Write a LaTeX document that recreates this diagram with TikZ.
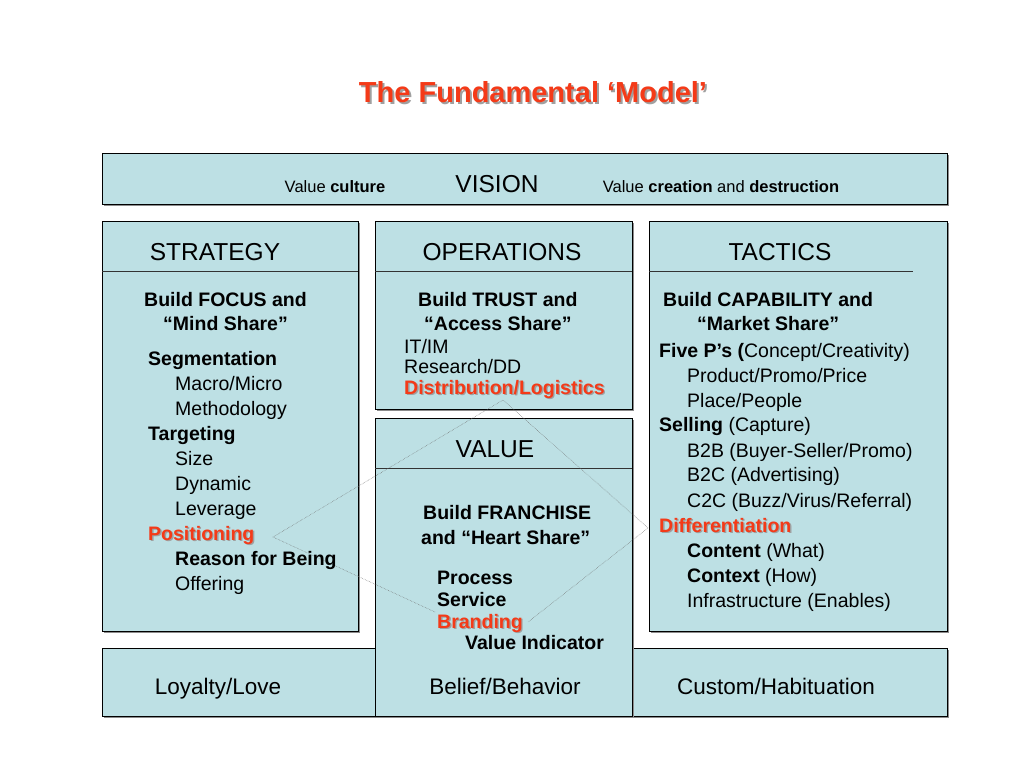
\documentclass[tikz,border=0pt]{standalone}
\usepackage{fontspec}
\setmainfont{Liberation Sans}
\usetikzlibrary{shadows}
\definecolor{boxfill}{RGB}{189,224,228}
\definecolor{redc}{RGB}{244,58,24}
\definecolor{shcol}{RGB}{160,160,160}
\newcommand\redsh[1]{\makebox[0pt][l]{\hspace{1.3pt}\raisebox{-1.3pt}{\textcolor{shcol}{#1}}}\textcolor{redc}{#1}}
\newcommand\titlesh[1]{\makebox[0pt][l]{\hspace{2pt}\raisebox{-2pt}{\textcolor{shcol}{#1}}}\textcolor{redc}{#1}}
\tikzset{
 box/.style={draw=black, line width=0.8pt, fill=boxfill, inner sep=0pt, anchor=north west,
   drop shadow={shadow xshift=1.5pt,shadow yshift=-1.5pt,fill=black!45,opacity=1}},
 sepline/.style={draw=black!80, line width=0.8pt},
 head/.style={font=\fontsize{24.5}{28}\selectfont, anchor=base, inner sep=0pt},
 txt/.style={font=\fontsize{19.5}{24}\selectfont, anchor=base west, inner sep=0pt},
 btxt/.style={font=\fontsize{19.5}{24}\selectfont\bfseries, anchor=base west, inner sep=0pt},
 vtxt/.style={font=\fontsize{16.5}{20}\selectfont, anchor=base, inner sep=0pt},
 foot/.style={font=\fontsize{22.5}{26}\selectfont, anchor=base, inner sep=0pt},
 diam/.style={draw=black!55, densely dotted, line width=0.5pt},
}
\begin{document}
\begin{tikzpicture}[x=1pt,y=-1pt]
\fill[white] (0,0) rectangle (1024,768);
\useasboundingbox (0,0) rectangle (1024,768);

% title
\node (title) [anchor=base, inner sep=0pt, font=\fontsize{29}{32}\selectfont\bfseries] at (533,102) {\titlesh{The Fundamental ‘Model’}};

% boxes
\node (vision) [box, minimum width=845pt, minimum height=51pt] at (102,153) {};
\node (strategy) [box, minimum width=256pt, minimum height=410pt] at (102,221) {};
\node (operations) [box, minimum width=257pt, minimum height=188pt] at (375,221) {};
\node (tactics) [box, minimum width=298pt, minimum height=410pt] at (649,221) {};
\node (bottom) [box, minimum width=845pt, minimum height=68pt] at (102,648) {};
\node (value) [box, minimum width=257pt, minimum height=298pt] at (375,418) {};

% separators
\draw[sepline] (102,271) -- (358,271);
\draw[sepline] (375,271) -- (632,271);
\draw[sepline] (649,271) -- (913,271);
\draw[sepline] (375,468) -- (632,468);

% dotted diamond
\coordinate (dA) at (435,612);
\coordinate (dL) at (273,537);
\coordinate (dT) at (503,400);
\coordinate (dR) at (648,528);
\coordinate (dB) at (528,622);
\draw[diam] (dA) -- (dL) -- (dT) -- (dR) -- (dB);

% vision row
\node (vcult) [vtxt] at (335,192) {Value \textbf{culture}};
\node (vhead) [head] at (497,192) {VISION};
\node (vcreat) [vtxt] at (721,192) {Value \textbf{creation} and \textbf{destruction}};

% headings
\node (hstr) [head] at (215,260) {STRATEGY};
\node (hops) [head] at (502,260) {OPERATIONS};
\node (htac) [head] at (780,260) {TACTICS};
\node (hval) [head] at (495,457) {VALUE};

% strategy column
\node (s1) [btxt] at (144,306) {Build FOCUS and};
\node (s2) [btxt] at (163,330) {“Mind Share”};
\node (s3) [btxt] at (148,365) {Segmentation};
\node (s4) [txt] at (175,390) {Macro/Micro};
\node (s5) [txt] at (175,415) {Methodology};
\node (s6) [btxt] at (148,440) {Targeting};
\node (s7) [txt] at (175,465) {Size};
\node (s8) [txt] at (175,490) {Dynamic};
\node (s9) [txt] at (175,515) {Leverage};
\node (s10) [btxt] at (148,540) {\redsh{Positioning}};
\node (s11) [btxt] at (175,565) {Reason for Being};
\node (s12) [txt] at (175,590) {Offering};

% operations column
\node (o1) [btxt] at (418,306) {Build TRUST and};
\node (o2) [btxt] at (424,330) {“Access Share”};
\node (o3) [txt] at (404,353) {IT/IM};
\node (o4) [txt] at (404,373) {Research/DD};
\node (o5) [btxt] at (404,394) {\redsh{Distribution/Logistics}};

% tactics column
\node (t1) [btxt] at (663,306) {Build CAPABILITY and};
\node (t2) [btxt] at (697,330) {“Market Share”};
\node (t3) [txt] at (659,357) {\textbf{Five P’s (}Concept/Creativity)};
\node (t4) [txt] at (687,382) {Product/Promo/Price};
\node (t5) [txt] at (687,407) {Place/People};
\node (t6) [txt] at (659,431) {\textbf{Selling} (Capture)};
\node (t7) [txt] at (687,457) {B2B (Buyer-Seller/Promo)};
\node (t8) [txt] at (687,481) {B2C (Advertising)};
\node (t9) [txt] at (687,507) {C2C (Buzz/Virus/Referral)};
\node (t10) [btxt] at (659,532) {\redsh{Differentiation}};
\node (t11) [txt] at (687,557) {\textbf{Content} (What)};
\node (t12) [txt] at (687,582) {\textbf{Context} (How)};
\node (t13) [txt] at (687,607) {Infrastructure (Enables)};

% value column
\node (v1) [btxt] at (423,519) {Build FRANCHISE};
\node (v2) [btxt] at (421,544) {and “Heart Share”};
\node (v3) [btxt] at (437,584) {Process};
\node (v4) [btxt] at (437,606) {Service};
\node (v5) [btxt] at (437,628) {\redsh{Branding}};
\node (v6) [btxt] at (465,649) {Value Indicator};

% bottom row
\node (b1) [foot] at (218,694) {Loyalty/Love};
\node (b2) [foot] at (505,694) {Belief/Behavior};
\node (b3) [foot] at (776,694) {Custom/Habituation};
\end{tikzpicture}
\end{document}
